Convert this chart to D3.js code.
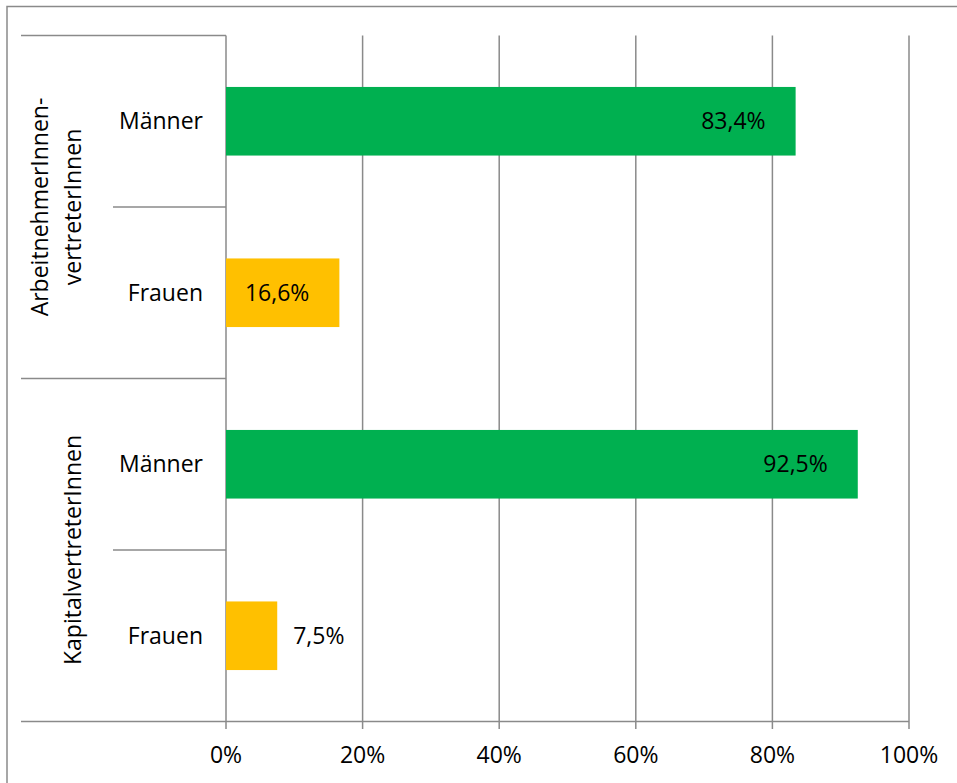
<!DOCTYPE html>
<html lang="de">
<head>
<meta charset="utf-8">
<title>Aufsichtsräte nach Geschlecht</title>
<script src="https://cdn.jsdelivr.net/npm/d3@7"></script>
<style>
  html, body { margin: 0; padding: 0; background: #ffffff; }
  svg { display: block; font-family: "Open Sans", "Noto Sans", sans-serif; }
</style>
</head>
<body>
<svg id="chart" width="957" height="783"></svg>
<script>
// Board seats by side of representation and gender (share in %)
const groupLabels = [["ArbeitnehmerInnen-", "vertreterInnen"], ["KapitalvertreterInnen"]];
const categories = ["Männer", "Frauen", "Männer", "Frauen"];
const categoryGroup = [0, 0, 1, 1];
const values = [83.4, 16.6, 92.5, 7.5];
const tickValues = [0, 20, 40, 60, 80, 100];
const tickLabels = ["0%", "20%", "40%", "60%", "80%", "100%"];
const genderColors = { "Männer": "#00b050", "Frauen": "#ffc000" };

const svg = d3.select("#chart");
const W = 957, H = 783;
const gridColor = "#8a8a8a";
const fontSize = 23;

const plot = { left: 226, right: 909, top: 35.5, bottom: 721.5 };
const axisLeftEdge = 21;      // outer start of the category axis lines
const innerLeftEdge = 113;    // start of separators between sub-categories

const de = d3.formatLocale({ decimal: ",", thousands: ".", grouping: [3], currency: ["", " €"] });
const fmt = de.format(".1f");

// chart frame
svg.append("rect")
  .attr("x", 0).attr("y", 0).attr("width", W).attr("height", H)
  .attr("fill", "#ffffff");
svg.append("rect")
  .attr("x", 7).attr("y", 6.5).attr("width", W + 10).attr("height", H + 10)
  .attr("fill", "none").attr("stroke", gridColor).attr("stroke-width", 1.5);

const x = d3.scaleLinear().domain([0, 100]).range([plot.left, plot.right]);
const idx = d3.range(categories.length);
const y = d3.scaleBand().domain(idx).range([plot.top, plot.bottom])
  .paddingInner(0.6).paddingOuter(0.3);
const step = y.step();

// vertical gridlines with small ticks below the axis
svg.append("g").selectAll("line").data(tickValues).join("line")
  .attr("x1", d => x(d)).attr("x2", d => x(d))
  .attr("y1", plot.top).attr("y2", plot.bottom + 7.5)
  .attr("stroke", gridColor).attr("stroke-width", 1.5);

// horizontal category axis separators
const bandEdge = i => plot.top + i * step;
const seps = d3.range(categories.length + 1).map(i => {
  const isGroupEdge = i === 0 || i === categories.length || categoryGroup[i] !== categoryGroup[i - 1];
  return { y: bandEdge(i), x1: isGroupEdge ? axisLeftEdge : innerLeftEdge,
           x2: i === categories.length ? plot.right : plot.left };
});
svg.append("g").selectAll("line").data(seps).join("line")
  .attr("x1", d => d.x1).attr("x2", d => d.x2)
  .attr("y1", d => d.y).attr("y2", d => d.y)
  .attr("stroke", gridColor).attr("stroke-width", 1.5);

// bars
svg.append("g").selectAll("rect").data(idx).join("rect")
  .attr("x", x(0))
  .attr("y", i => y(i))
  .attr("width", i => x(values[i]) - x(0))
  .attr("height", y.bandwidth())
  .attr("fill", i => genderColors[categories[i]]);

// value labels: inside the bar end when there is room, otherwise just outside
const labelG = svg.append("g").attr("font-size", fontSize).attr("fill", "#000");
labelG.selectAll("text").data(idx).join("text")
  .attr("y", i => y(i) + y.bandwidth() / 2 + 8)
  .text(i => fmt(values[i]) + "%")
  .each(function (i) {
    const t = d3.select(this);
    const w = this.getComputedTextLength();
    const barW = x(values[i]) - x(0);
    if (barW > w + 40) {
      t.attr("x", x(values[i]) - 30).attr("text-anchor", "end");
    } else {
      t.attr("x", x(values[i]) + 16).attr("text-anchor", "start");
    }
  });

// category labels
svg.append("g").attr("font-size", fontSize).attr("fill", "#000")
  .selectAll("text").data(idx).join("text")
  .attr("x", 203)
  .attr("y", i => y(i) + y.bandwidth() / 2 + 8)
  .attr("text-anchor", "end")
  .text(i => categories[i]);

// group labels (rotated)
const lineH = 33;
groupLabels.forEach((lines, g) => {
  const members = idx.filter(i => categoryGroup[i] === g);
  const cy = (bandEdge(members[0]) + bandEdge(members[members.length - 1] + 1)) / 2;
  const lastBaseline = 80.5;
  lines.forEach((line, k) => {
    const bx = lastBaseline - (lines.length - 1 - k) * lineH;
    svg.append("text")
      .attr("transform", `translate(${bx},${cy}) rotate(-90)`)
      .attr("text-anchor", "middle")
      .attr("font-size", fontSize)
      .attr("fill", "#000")
      .text(line);
  });
});

// x tick labels
svg.append("g").attr("font-size", fontSize).attr("fill", "#000")
  .selectAll("text").data(tickValues).join("text")
  .attr("x", d => x(d))
  .attr("y", 763)
  .attr("text-anchor", "middle")
  .text((d, i) => tickLabels[i]);
</script>
</body>
</html>
